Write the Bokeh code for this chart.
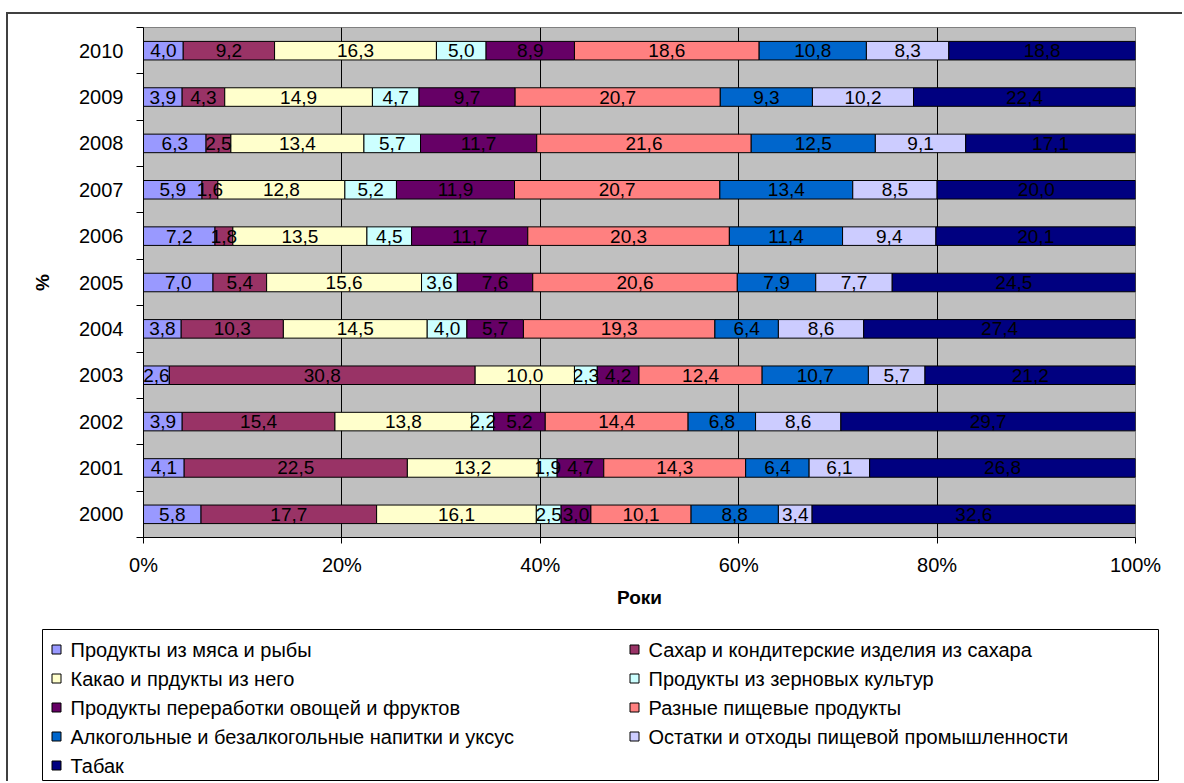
from bokeh.plotting import figure
from bokeh.models import (ColumnDataSource, FixedTicker, PrintfTickFormatter, Range1d)
from bokeh.core.properties import value
from bokeh.embed import file_html
from bokeh.resources import INLINE

FONT = "Liberation Sans"

years = ["2000", "2001", "2002", "2003", "2004", "2005",
         "2006", "2007", "2008", "2009", "2010"]

series_names = [
    "Продукты из мяса и рыбы",
    "Сахар и кондитерские изделия из сахара",
    "Какао и прдукты из него",
    "Продукты из зерновых культур",
    "Продукты переработки овощей и фруктов",
    "Разные пищевые продукты",
    "Алкогольные и безалкогольные напитки и уксус",
    "Остатки и отходы пищевой промышленности",
    "Табак",
]
colors = ["#9999FF", "#993366", "#FFFFCC", "#CCFFFF", "#660066",
          "#FF8080", "#0066CC", "#CCCCFF", "#000080"]

meat = [5.8, 4.1, 3.9, 2.6, 3.8, 7.0, 7.2, 5.9, 6.3, 3.9, 4.0]
sugar = [17.7, 22.5, 15.4, 30.8, 10.3, 5.4, 1.8, 1.6, 2.5, 4.3, 9.2]
cocoa = [16.1, 13.2, 13.8, 10.0, 14.5, 15.6, 13.5, 12.8, 13.4, 14.9, 16.3]
grain = [2.5, 1.9, 2.2, 2.3, 4.0, 3.6, 4.5, 5.2, 5.7, 4.7, 5.0]
vegfruit = [3.0, 4.7, 5.2, 4.2, 5.7, 7.6, 11.7, 11.9, 11.7, 9.7, 8.9]
misc = [10.1, 14.3, 14.4, 12.4, 19.3, 20.6, 20.3, 20.7, 21.6, 20.7, 18.6]
drinks = [8.8, 6.4, 6.8, 10.7, 6.4, 7.9, 11.4, 13.4, 12.5, 9.3, 10.8]
residues = [3.4, 6.1, 8.6, 5.7, 8.6, 7.7, 9.4, 8.5, 9.1, 10.2, 8.3]
tobacco = [32.6, 26.8, 29.7, 21.2, 27.4, 24.5, 20.1, 20.0, 17.1, 22.4, 18.8]

series_values = [meat, sugar, cocoa, grain, vegfruit, misc, drinks, residues, tobacco]
xtick_values = [0, 20, 40, 60, 80, 100]

# 100% stacked: normalise each year
n = len(years)
totals = [sum(s[i] for s in series_values) for i in range(n)]
keys = [f"s{k}" for k in range(len(series_values))]
data = {"y": list(range(n))}
for k, s in zip(keys, series_values):
    data[k] = [s[i] / totals[i] * 100 for i in range(n)]
src = ColumnDataSource(data)

# label positions (centre of each segment)
lx, ly, lt = [], [], []
for i in range(n):
    left = 0.0
    for k, s in zip(keys, series_values):
        w = data[k][i]
        lx.append(left + w / 2)
        ly.append(i)
        lt.append(f"{s[i]:.1f}".replace(".", ","))
        left += w
lab_src = ColumnDataSource(dict(x=lx, y=ly, text=lt))

BORDER = "2px solid #404040"

# ---------------- main chart ----------------
p = figure(width=1176, height=617, output_backend="svg", toolbar_location=None,
           x_range=Range1d(0, 100), y_range=Range1d(-0.5, n - 0.5),
           min_border_left=135, min_border_right=49, min_border_top=13,
           min_border_bottom=94)
p.margin = (12, 0, 0, 6)
p.styles = {"border-left": BORDER, "border-top": BORDER}
p.background_fill_color = "#C0C0C0"
p.border_fill_color = "white"
p.outline_line_color = "#808080"
p.outline_line_width = 1

rends = p.hbar_stack(keys, y="y", height=0.4, source=src, color=colors,
                     line_color="black", line_width=1)

p.text(x="x", y="y", text="text", source=lab_src, text_align="center",
       text_baseline="middle", text_font=value(FONT), text_font_size="19px",
       text_color="black")

xa = p.xaxis[0]
xa.ticker = FixedTicker(ticks=xtick_values)
xa.formatter = PrintfTickFormatter(format="%d%%")
xa.axis_label = "Роки"
xa.axis_line_color = "black"
xa.major_tick_line_color = "black"
xa.major_tick_out = 6
xa.major_tick_in = 0
xa.minor_tick_line_color = None
xa.major_label_text_font = FONT
xa.major_label_text_font_size = "20px"
xa.major_label_text_color = "black"
xa.major_label_standoff = 10
xa.axis_label_text_font = FONT
xa.axis_label_text_font_size = "19px"
xa.axis_label_text_font_style = "bold"
xa.axis_label_text_color = "black"
xa.axis_label_standoff = 8

ya = p.yaxis[0]
ya.ticker = FixedTicker(ticks=list(range(n)),
                        minor_ticks=[i - 0.5 for i in range(n + 1)])
ya.major_label_overrides = {i: years[i] for i in range(n)}
ya.axis_label = "%"
ya.axis_line_color = "black"
ya.major_tick_line_color = None
ya.major_tick_out = 0
ya.major_tick_in = 0
ya.minor_tick_line_color = "black"
ya.minor_tick_out = 7
ya.minor_tick_in = 0
ya.major_label_text_font = FONT
ya.major_label_text_font_size = "20px"
ya.major_label_text_color = "black"
ya.major_label_standoff = 13
ya.axis_label_text_font = FONT
ya.axis_label_text_font_size = "19px"
ya.axis_label_text_font_style = "bold"
ya.axis_label_text_color = "black"
ya.axis_label_standoff = 23

p.xgrid.ticker = FixedTicker(ticks=[20, 40, 60, 80])
p.xgrid.grid_line_color = "black"
p.xgrid.grid_line_width = 1
p.ygrid.grid_line_color = None

# ---------------- legend panel (Excel-style, row-major, 2 columns) ----------------
# separate root (no frame alignment with the chart); its frame outline is the legend box
LW, LH = 1176, 152
LBL, LBR = 34, 26
FW = LW - LBL - LBR
lg = figure(width=LW, height=LH, output_backend="svg", toolbar_location=None,
            x_range=Range1d(0, FW), y_range=Range1d(LH, 0),
            x_axis_location=None, y_axis_location=None,
            min_border_left=LBL, min_border_right=LBR,
            min_border_top=0, min_border_bottom=0)
lg.margin = (0, 0, 0, 6)
lg.styles = {"border-left": BORDER}
lg.grid.visible = False
lg.outline_line_color = "black"
lg.outline_line_width = 1
lg.background_fill_color = "white"
lg.border_fill_color = "white"

col_x = [14, 592]          # marker centres of the two columns
row_y0, row_dy = 20, 29.0  # first row centre and row pitch
mx, my, tx = [], [], []
for idx in range(len(series_names)):
    r, c = divmod(idx, 2)
    mx.append(col_x[c])
    my.append(row_y0 + r * row_dy)
    tx.append(col_x[c] + 14)
lg.rect(x=mx, y=my, width=9, height=9, width_units="screen", height_units="screen",
        fill_color=colors, line_color="black", line_width=1)
lg.text(x=tx, y=my, text=series_names, text_align="left", text_baseline="middle",
        text_font=value(FONT), text_font_size="20px", text_color="black")

open("out.html", "w").write(file_html([p, lg], INLINE))
